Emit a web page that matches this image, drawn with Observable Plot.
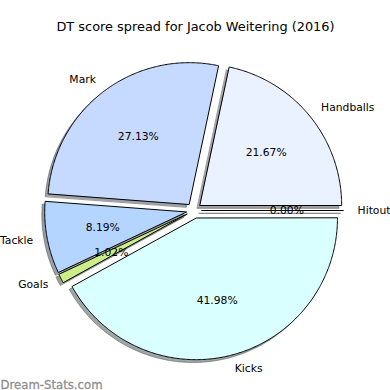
<!DOCTYPE html>
<html><head><meta charset="utf-8">
<script src="https://cdn.jsdelivr.net/npm/d3@7"></script>
<script src="https://cdn.jsdelivr.net/npm/@observablehq/plot@0.6"></script>
<style>body{margin:0;background:#fff}</style>
</head><body><div id="chart"></div>
<script>
const title = "DT score spread for Jacob Weitering (2016)";
const watermark = "Dream-Stats.com";
const categories = ["Handballs", "Mark", "Tackle", "Goals", "Kicks", "Hitout"];
const values = [21.67, 27.13, 8.19, 1.02, 41.98, 0.00];
const sliceColors = ["#eaf1ff", "#c6d9ff", "#b4d5ff", "#ccee88", "#d9ffff", "#ffffff"];

const EXPLODE = 0.056, LABEL_R = 1.1, PCT_R = 0.6, SHADOW = 0.02;
const total = d3.sum(values);
let cum = 0;
const slices = categories.map((name, i) => {
  const a0 = cum / total * 2 * Math.PI; cum += values[i];
  const a1 = cum / total * 2 * Math.PI;
  const am = (a0 + a1) / 2;
  const ox = EXPLODE * Math.cos(am), oy = EXPLODE * Math.sin(am);
  const c = d3.rgb(sliceColors[i]);
  const shadow = d3.rgb(c.r * 0.3, c.g * 0.3, c.b * 0.3).formatHex();
  return {name, value: values[i], color: sliceColors[i], shadow, a0, a1, am, ox, oy};
});
const wedgePts = slices.flatMap(s => {
  const n = Math.max(1, Math.ceil((s.a1 - s.a0) / (Math.PI / 360)));
  const pts = [{name: s.name, color: s.color, shadow: s.shadow, x: s.ox, y: s.oy}];
  for (let k = 0; k <= n; k++) {
    const a = s.a0 + (s.a1 - s.a0) * k / n;
    pts.push({name: s.name, color: s.color, shadow: s.shadow, x: s.ox + Math.cos(a), y: s.oy + Math.sin(a)});
  }
  return pts;
});
const labelData = slices.map(s => ({
  name: s.name,
  lx: s.ox + LABEL_R * Math.cos(s.am), ly: s.oy + LABEL_R * Math.sin(s.am),
  px: s.ox + PCT_R * Math.cos(s.am), py: s.oy + PCT_R * Math.sin(s.am),
  pct: (s.value / total * 100).toFixed(2) + "%"
}));

const W = 390, H = 390, PX = 141.5, CX = 193.5, CY = 210;
const chart = Plot.plot({
  width: W, height: H, margin: 0,
  style: {fontFamily: "DejaVu Sans", fontSize: "10.75px", background: "white", color: "black"},
  x: {domain: [-CX / PX, (W - CX) / PX], axis: null},
  y: {domain: [-(H - CY) / PX, CY / PX], axis: null},
  color: {type: "identity"},
  marks: [
    Plot.line(wedgePts, {x: "x", y: "y", z: "name", curve: "linear-closed",
      fill: "shadow", stroke: "shadow", fillOpacity: 0.5, strokeOpacity: 0.5, strokeWidth: 1,
      dx: -SHADOW * PX, dy: SHADOW * PX}),
    Plot.line(wedgePts, {x: "x", y: "y", z: "name", curve: "linear-closed",
      fill: "color", stroke: "black", strokeWidth: 1, strokeLinejoin: "miter"}),
    Plot.text(labelData.filter(d => d.lx > 0), {x: "lx", y: "ly", text: "name", textAnchor: "start", fill: "black"}),
    Plot.text(labelData.filter(d => d.lx <= 0), {x: "lx", y: "ly", text: "name", textAnchor: "end", fill: "black"}),
    Plot.text(labelData, {x: "px", y: "py", text: "pct", fill: "black"}),
    Plot.text([title], {frameAnchor: "top", lineAnchor: "top", dy: 21, fontSize: 12.9, fill: "black"}),
    Plot.text([watermark], {frameAnchor: "bottom-left", lineAnchor: "bottom", textAnchor: "start", dy: -2, fontSize: 11.7, fill: "#8f8f8f", stroke: "#8f8f8f", strokeWidth: 0.3})
  ]
});
document.getElementById("chart").appendChild(chart);
</script>
</body></html>
